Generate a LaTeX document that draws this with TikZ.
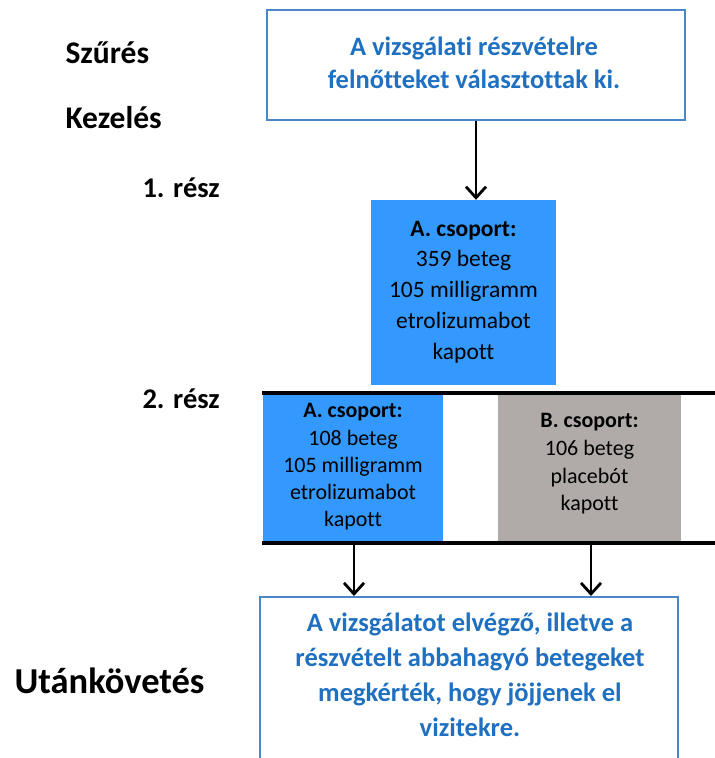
\documentclass[tikz,border=0pt]{standalone}
\usepackage{fontspec}
\setmainfont{Carlito}[Ligatures=NoCommon]
\usetikzlibrary{arrows.meta}
\definecolor{boxblue}{HTML}{4A86C8}
\definecolor{txtblue}{HTML}{1F70C1}
\definecolor{fillblue}{HTML}{3399FF}
\definecolor{fillgray}{HTML}{B0ABA9}
\tikzset{
  outline/.style={draw=boxblue, line width=2pt, fill=white, inner sep=0pt},
  bluetext/.style={text=txtblue, align=center, font=\fontsize{26.5}{33.5}\selectfont\bfseries},
  grpbox/.style={inner sep=0pt, draw=none},
  grptext/.style={align=center, text=black},
  sidelabel/.style={anchor=base west, font=\bfseries},
  conn/.style={line width=2.8pt, -{Straight Barb[length=11pt,width=20pt,line width=2.8pt]}},
  rule/.style={line width=3.6pt},
}
\begin{document}
\begin{tikzpicture}[x=1pt,y=-1pt]
\useasboundingbox (0,0) rectangle (715,758);
% left labels
\node[sidelabel, font=\fontsize{31.5}{36}\selectfont\bfseries] (szures) at (62,63) {Szűrés};
\node[sidelabel, font=\fontsize{31.5}{36}\selectfont\bfseries] (kezeles) at (62,128) {Kezelés};
\node[sidelabel, font=\fontsize{28.5}{34}\selectfont\bfseries] (resz1) at (139,197) {1. rész};
\node[sidelabel, font=\fontsize{28.5}{34}\selectfont\bfseries] (resz2) at (139,408) {2. rész};
\node[sidelabel, font=\fontsize{36.5}{42}\selectfont\bfseries] (utan) at (11,693) {Utánkövetés};
% top box
\node[outline, minimum width=418pt, minimum height=110pt] (top) at (476,65) {};
\node[bluetext] (toptext) at (474,63) {A vizsgálati részvételre\\felnőtteket választottak ki.};
% group A part 1
\node[grpbox, fill=fillblue, minimum width=185pt, minimum height=185pt] (a1) at (463.5,292.5) {};
\node[grptext, font=\fontsize{23.5}{30.8}\selectfont] (a1text) at (463.5,292) {\textbf{A. csoport:}\\359 beteg\\105 milligramm\\etrolizumabot\\kapott};
% part 2 band
\node[grpbox, fill=fillblue, minimum width=180pt, minimum height=150pt] (a2) at (353,468) {};
\node[grptext, font=\fontsize{22}{27.2}\selectfont] (a2text) at (353,467) {\textbf{A. csoport:}\\108 beteg\\105 milligramm\\etrolizumabot\\kapott};
\node[grpbox, fill=fillgray, minimum width=183pt, minimum height=148pt] (b2) at (589.5,469) {};
\node[grptext, font=\fontsize{22}{27.6}\selectfont] (b2text) at (589.5,464) {\textbf{B. csoport:}\\106 beteg\\placebót\\kapott};
\coordinate (ltop) at (262,393);
\coordinate (rtop) at (715,393);
\coordinate (lbot) at (262,543);
\coordinate (rbot) at (715,543);
\draw[rule] (ltop) -- (rtop);
\draw[rule] (lbot) -- (rbot);
% follow-up box
\node[outline, minimum width=418pt, minimum height=200pt, anchor=north] (follow) at (469,596) {};
\node[bluetext, font=\fontsize{26.5}{35}\selectfont\bfseries] (followtext) at (470,675) {A vizsgálatot elvégző, illetve a\\részvételt abbahagyó betegeket\\megkérték, hogy jöjjenek el\\vizitekre.};
% connectors
\coordinate (outA) at (354,543);
\coordinate (outB) at (591,543);
\draw[conn] (top.south) -- (top.south |- a1.north);
\draw[conn] (outA) -- (outA |- follow.north);
\draw[conn] (outB) -- (outB |- follow.north);
\end{tikzpicture}
\end{document}
